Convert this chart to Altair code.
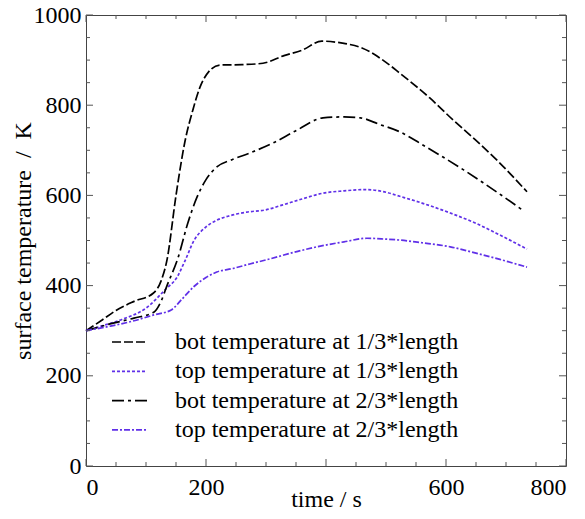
import altair as alt
import pandas as pd

# ---- data ----
series_names = [
    "bot temperature at 1/3*length",
    "top temperature at 1/3*length",
    "bot temperature at 2/3*length",
    "top temperature at 2/3*length",
]

a_x = [0, 25, 50, 80, 112, 125, 135, 150, 165, 178, 190, 205, 223, 260, 295, 330, 360, 393, 430, 460, 500, 523, 573, 612, 650, 685, 735]
a_y = [300, 322, 345, 365, 383, 410, 457, 600, 720, 789, 840, 875, 889, 890, 893, 910, 922, 942, 937, 927, 895, 871, 816, 767, 722, 678, 608]

b_x = [0, 30, 60, 100, 135, 150, 165, 180, 200, 218, 240, 268, 300, 328, 360, 395, 430, 465, 500, 523, 560, 607, 650, 690, 735]
b_y = [300, 312, 325, 350, 395, 415, 455, 500, 530, 545, 555, 563, 568, 579, 592, 605, 610, 613, 607, 598, 583, 561, 538, 512, 481]

c_x = [0, 40, 80, 113, 125, 135, 153, 170, 185, 200, 218, 245, 273, 310, 352, 395, 430, 457, 490, 523, 560, 595, 630, 662, 727]
c_y = [300, 315, 328, 341, 365, 400, 460, 540, 596, 635, 663, 680, 694, 715, 745, 772, 774, 772, 757, 741, 713, 685, 656, 628, 568]

d_x = [0, 40, 80, 113, 142, 160, 180, 200, 218, 245, 273, 300, 353, 385, 430, 468, 500, 523, 560, 607, 650, 690, 735]
d_y = [300, 310, 322, 335, 346, 370, 398, 418, 430, 438, 448, 457, 476, 486, 497, 505, 503, 501, 495, 486, 472, 458, 441]

x_major = [0, 200, 400, 600, 800]
x_labels = [0, 200, 600, 800]
x_minor = [50, 100, 150, 250, 300, 350, 450, 500, 550, 650, 700, 750]
y_major = [0, 200, 400, 600, 800, 1000]
y_minor = [50, 100, 150, 250, 300, 350, 450, 500, 550, 650, 700, 750, 850, 900, 950]

colors = ["#000000", "#6030e8", "#000000", "#6030e8"]
dashes = [[9, 3], [3, 2], [12, 4, 3, 4], [6, 2, 2, 2]]

W, H = 480, 451
FONT = "Liberation Serif"
FS = 24

xs = [a_x, b_x, c_x, d_x]
ys = [a_y, b_y, c_y, d_y]
rows = []
for name, xx, yy in zip(series_names, xs, ys):
    for i, (x, y) in enumerate(zip(xx, yy)):
        rows.append({"series": name, "time": x, "temp": y, "order": i})
df = pd.DataFrame(rows)

xscale = alt.Scale(domain=[0, 800], nice=False)
yscale = alt.Scale(domain=[0, 1000], nice=False)

base_axis_x = alt.Axis(
    values=x_labels, title="time / s", grid=False, domain=False, ticks=False, format="d",
    labelFont=FONT, labelFontSize=FS, labelColor="#000", labelPadding=9,
    titleFont=FONT, titleFontSize=FS, titleFontWeight="normal", titleColor="#000",
    titleBaseline="alphabetic", titleY=40,
)
base_axis_y = alt.Axis(
    values=y_major, title="surface temperature \u00a0/ \u00a0K", grid=False, domain=False, ticks=False, format="d",
    labelFont=FONT, labelFontSize=FS, labelColor="#000", labelPadding=5,
    titleFont=FONT, titleFontSize=FS, titleFontWeight="normal", titleColor="#000",
    titleBaseline="alphabetic", titleX=-56,
)

lines = []
for name, col, dsh in zip(series_names, colors, dashes):
    lines.append(
        alt.Chart(df[df.series == name]).mark_line(
            color=col, strokeDash=dsh, strokeWidth=1.7, interpolate="monotone"
        ).encode(
            x=alt.X("time:Q", scale=xscale, axis=base_axis_x),
            y=alt.Y("temp:Q", scale=yscale, axis=base_axis_y),
            order="order:Q",
        )
    )

tick_color = "#555"
def xticks(vals, length):
    d = pd.DataFrame({"v": vals})
    bottom = alt.Chart(d).mark_rule(color=tick_color, strokeWidth=1).encode(
        x=alt.X("v:Q", scale=xscale), y=alt.value(H), y2=alt.value(H - length))
    top = alt.Chart(d).mark_rule(color=tick_color, strokeWidth=1).encode(
        x=alt.X("v:Q", scale=xscale), y=alt.value(0), y2=alt.value(length))
    return [bottom, top]

def yticks(vals, length):
    d = pd.DataFrame({"v": vals})
    left = alt.Chart(d).mark_rule(color=tick_color, strokeWidth=1).encode(
        y=alt.Y("v:Q", scale=yscale), x=alt.value(0), x2=alt.value(length))
    right = alt.Chart(d).mark_rule(color=tick_color, strokeWidth=1).encode(
        y=alt.Y("v:Q", scale=yscale), x=alt.value(W), x2=alt.value(W - length))
    return [left, right]

tick_layers = xticks(x_major, 7) + xticks(x_minor, 4) + yticks(y_major, 7) + yticks(y_minor, 4)

# manual legend
legend_layers = []
y0, pitch = 327, 29.3
for i, (name, col, dsh) in enumerate(zip(series_names, colors, dashes)):
    yy = y0 + i * pitch
    legend_layers.append(
        alt.Chart(pd.DataFrame({"s": [name]})).mark_rule(
            color=col, strokeDash=dsh, strokeWidth=1.7
        ).encode(x=alt.value(26), x2=alt.value(61), y=alt.value(yy))
    )
    legend_layers.append(
        alt.Chart(pd.DataFrame({"s": [name]})).mark_text(
            align="left", baseline="middle", font=FONT, fontSize=FS, color="#000"
        ).encode(x=alt.value(89), y=alt.value(yy), text="s:N")
    )

chart = alt.layer(*lines, *tick_layers, *legend_layers).properties(
    width=W, height=H,
    autosize=alt.AutoSizeParams(type="none"),
    padding={"left": 78, "top": 7, "right": 11, "bottom": 45},
).configure_view(stroke="#444", strokeWidth=1)

chart.save("out.html", embed_options={"renderer": "svg", "actions": False})
